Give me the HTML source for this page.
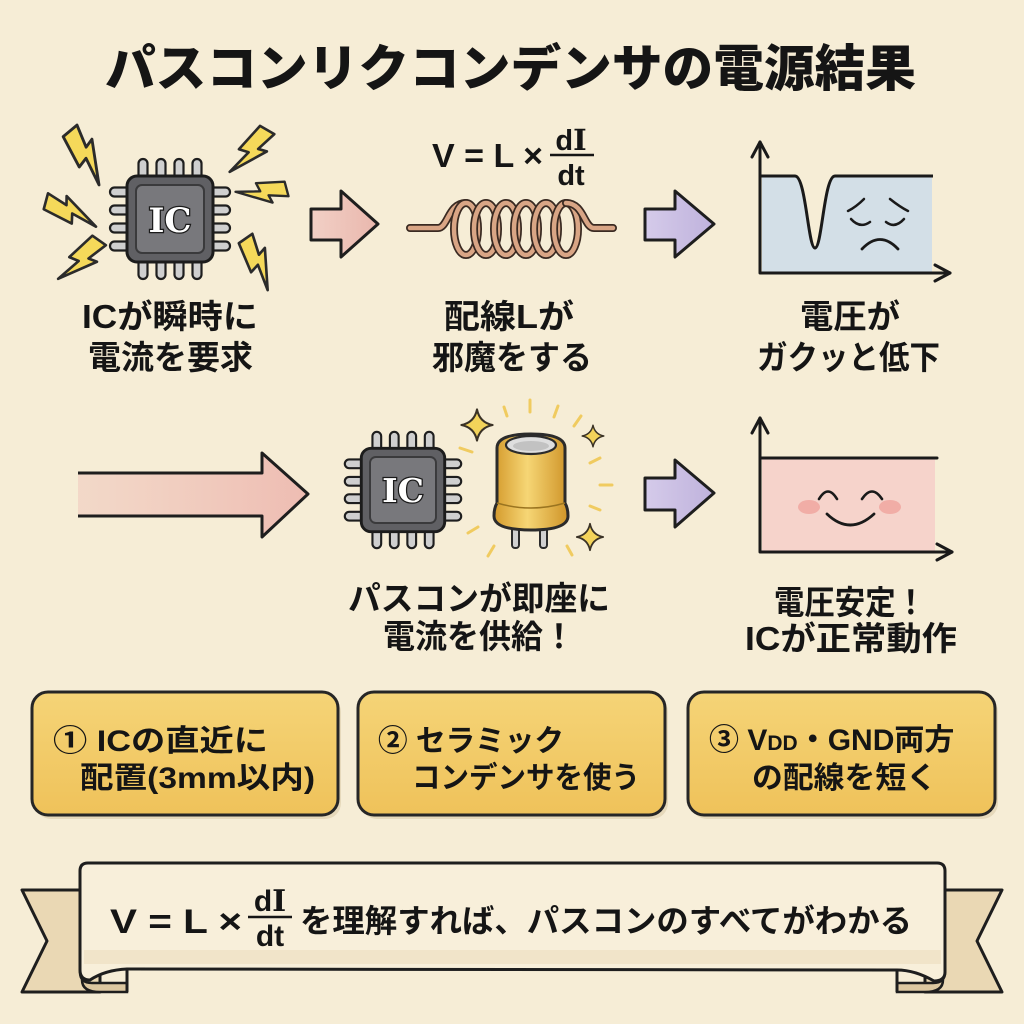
<!DOCTYPE html>
<html><head><meta charset="utf-8"><style>
html,body{margin:0;padding:0;background:#f6edd6;}
svg{display:block;}
text{font-family:"Liberation Sans","Noto Sans CJK JP",sans-serif;fill:#151515;}
</style></head><body>
<svg width="1024" height="1024" viewBox="0 0 1024 1024" xmlns="http://www.w3.org/2000/svg">
<defs>
  <linearGradient id="pinkA" x1="0" x2="1" y1="0" y2="0"><stop offset="0" stop-color="#f0c8bd" stop-opacity="0.55"/><stop offset="1" stop-color="#eebcb2"/></linearGradient>
  <linearGradient id="pinkS" x1="0" x2="1"><stop offset="0" stop-color="#f2d0c6"/><stop offset="1" stop-color="#e9b7ad"/></linearGradient>
  <linearGradient id="purp" x1="0" x2="1"><stop offset="0" stop-color="#d5cbea"/><stop offset="1" stop-color="#bfb2dc"/></linearGradient>
  <linearGradient id="gold" x1="0" x2="1"><stop offset="0" stop-color="#d49a2c"/><stop offset="0.45" stop-color="#f6d675"/><stop offset="1" stop-color="#cf9428"/></linearGradient>
  <linearGradient id="box" x1="0" x2="0" y1="0" y2="1"><stop offset="0" stop-color="#f5d477"/><stop offset="1" stop-color="#efc25a"/></linearGradient>
  <g id="chip">
    <g fill="#cfcfcf" stroke="#1e1e1e" stroke-width="2.2">
      <rect x="-31.5" y="-60" width="9" height="24" rx="4.5"/><rect x="-13.5" y="-60" width="9" height="24" rx="4.5"/><rect x="4.5" y="-60" width="9" height="24" rx="4.5"/><rect x="22.5" y="-60" width="9" height="24" rx="4.5"/>
      <rect x="-31.5" y="36" width="9" height="24" rx="4.5"/><rect x="-13.5" y="36" width="9" height="24" rx="4.5"/><rect x="4.5" y="36" width="9" height="24" rx="4.5"/><rect x="22.5" y="36" width="9" height="24" rx="4.5"/>
      <rect x="-60" y="-31.5" width="24" height="9" rx="4.5"/><rect x="-60" y="-13.5" width="24" height="9" rx="4.5"/><rect x="-60" y="4.5" width="24" height="9" rx="4.5"/><rect x="-60" y="22.5" width="24" height="9" rx="4.5"/>
      <rect x="36" y="-31.5" width="24" height="9" rx="4.5"/><rect x="36" y="-13.5" width="24" height="9" rx="4.5"/><rect x="36" y="4.5" width="24" height="9" rx="4.5"/><rect x="36" y="22.5" width="24" height="9" rx="4.5"/>
    </g>
    <rect x="-43" y="-43" width="86" height="86" rx="10" fill="#606064" stroke="#1c1c1c" stroke-width="3"/>
    <rect x="-34" y="-34" width="68" height="68" rx="6" fill="#78787c" stroke="#3a3a3c" stroke-width="2"/>
  </g>
  <polygon id="bolt" points="-6,-25 9,-25 3,-6 11,-8 -9,25 -3,1 -12,3" fill="#f5d95a" stroke="#2b2b2b" stroke-width="2.4" stroke-linejoin="round"/>
  <path id="star" d="M0,-12 Q2,-2 12,0 Q2,2 0,12 Q-2,2 -12,0 Q-2,-2 0,-12 Z" fill="#f3d35a" stroke="#3a3226" stroke-width="1.6" stroke-linejoin="round"/>
</defs>

<rect width="1024" height="1024" fill="#f6edd6"/>

<!-- Title -->
<text x="105" y="86" font-size="50" font-weight="900" textLength="811" lengthAdjust="spacingAndGlyphs">パスコンリクコンデンサの電源結果</text>

<!-- ===== Row 1 Panel 1: chip with bolts ===== -->
<use href="#bolt" transform="translate(88,155) rotate(-40) scale(1.2)"/>
<use href="#bolt" transform="translate(252,153) rotate(30) scale(1.1)"/>
<use href="#bolt" transform="translate(72,210) rotate(-75) scale(1.1)"/>
<use href="#bolt" transform="translate(262,194) rotate(75) scale(1.0)"/>
<use href="#bolt" transform="translate(82,262) rotate(35) scale(1.1)"/>
<use href="#bolt" transform="translate(260,262) rotate(-35) scale(1.1)"/>
<use href="#chip" transform="translate(170,219)"/>
<text x="170" y="232" text-anchor="middle" font-weight="700" font-size="34" style="fill:#fff;stroke:#1a1a1a;stroke-width:2.5;paint-order:stroke;font-family:'DejaVu Serif','Liberation Serif',serif">IC</text>

<text x="82" y="328" font-size="33" font-weight="700" textLength="176" lengthAdjust="spacingAndGlyphs">ICが瞬時に</text>
<text x="88" y="369" font-size="33" font-weight="700" textLength="165" lengthAdjust="spacingAndGlyphs">電流を要求</text>

<!-- Arrow 1 pink -->
<polygon points="311,209 341,209 341,191 378,224 341,257 341,240 311,240" fill="url(#pinkS)" stroke="#1e1e1e" stroke-width="3" stroke-linejoin="round"/>

<!-- ===== Panel 2: formula + coil ===== -->
<text x="432" y="167" font-size="33" font-weight="700" textLength="111" lengthAdjust="spacingAndGlyphs">V = L ×</text>
<text x="571" y="150" text-anchor="middle" font-size="29" font-weight="700">d<tspan style="font-family:'DejaVu Serif','Liberation Serif',serif">I</tspan></text>
<line x1="550" y1="155" x2="594" y2="155" stroke="#151515" stroke-width="2.5"/>
<text x="571" y="185" text-anchor="middle" font-size="29" font-weight="700">dt</text>

<g fill="none" stroke-linecap="round">
  <path d="M410,228 L438,228 C448,228 448,203 466,203" stroke="#3a2a22" stroke-width="8"/>
  <path d="M410,228 L438,228 C448,228 448,203 466,203" stroke="#d9a585" stroke-width="4.5"/>
  <ellipse cx="466" cy="229" rx="12" ry="26" stroke="#3a2a22" stroke-width="8"/><ellipse cx="466" cy="229" rx="12" ry="26" stroke="#d9a585" stroke-width="4.5"/>
  <ellipse cx="486" cy="229" rx="12" ry="26" stroke="#3a2a22" stroke-width="8"/><ellipse cx="486" cy="229" rx="12" ry="26" stroke="#d9a585" stroke-width="4.5"/>
  <ellipse cx="506" cy="229" rx="12" ry="26" stroke="#3a2a22" stroke-width="8"/><ellipse cx="506" cy="229" rx="12" ry="26" stroke="#d9a585" stroke-width="4.5"/>
  <ellipse cx="526" cy="229" rx="12" ry="26" stroke="#3a2a22" stroke-width="8"/><ellipse cx="526" cy="229" rx="12" ry="26" stroke="#d9a585" stroke-width="4.5"/>
  <ellipse cx="546" cy="229" rx="12" ry="26" stroke="#3a2a22" stroke-width="8"/><ellipse cx="546" cy="229" rx="12" ry="26" stroke="#d9a585" stroke-width="4.5"/>
  <ellipse cx="566" cy="229" rx="12" ry="26" stroke="#3a2a22" stroke-width="8"/><ellipse cx="566" cy="229" rx="12" ry="26" stroke="#d9a585" stroke-width="4.5"/>
  <path d="M566,203 C584,203 584,228 594,228 L613,228" stroke="#3a2a22" stroke-width="8"/>
  <path d="M566,203 C584,203 584,228 594,228 L613,228" stroke="#d9a585" stroke-width="4.5"/>
</g>

<text x="444" y="328" font-size="33" font-weight="700" textLength="130" lengthAdjust="spacingAndGlyphs">配線Lが</text>
<text x="432" y="369" font-size="33" font-weight="700" textLength="160" lengthAdjust="spacingAndGlyphs">邪魔をする</text>

<!-- Arrow 2 purple -->
<polygon points="645,209 675,209 675,191 714,224 675,257 675,240 645,240" fill="url(#purp)" stroke="#1e1e1e" stroke-width="3" stroke-linejoin="round"/>

<!-- ===== Panel 3: graph drop ===== -->
<path d="M762,176 L795,176 C806,176 808,248 815,248 C822,248 824,176 835,176 L932,176 L932,272 L762,272 Z" fill="#d3dfe7"/>
<path d="M760,176 L795,176 C806,176 808,248 815,248 C822,248 824,176 835,176 L933,176" fill="none" stroke="#1a1a1a" stroke-width="3" stroke-linejoin="round"/>
<g fill="none" stroke="#1a1a1a" stroke-width="3" stroke-linecap="round" stroke-linejoin="round">
  <path d="M760,142 L760,273 L950,273"/>
  <path d="M752,157 L760,142 L768,157"/>
  <path d="M935,265 L950,273 L935,281"/>
  <path d="M848,211 Q856,207 864,199" stroke-width="2.5"/>
  <path d="M908,211 Q900,207 890,199" stroke-width="2.5"/>
  <path d="M851,219 Q860,229 870,222" stroke-width="2.5"/>
  <path d="M886,222 Q895,229 904,219" stroke-width="2.5"/>
  <path d="M862,249 Q880,230 898,249" stroke-width="2.8"/>
</g>

<text x="800" y="328" font-size="33" font-weight="700" textLength="100" lengthAdjust="spacingAndGlyphs">電圧が</text>
<text x="757" y="369" font-size="33" font-weight="700" textLength="183" lengthAdjust="spacingAndGlyphs">ガクッと低下</text>

<!-- ===== Row 2 ===== -->
<path d="M78,473 L262,473 L262,453 L308,494 L262,537 L262,516 L78,516 Z" fill="url(#pinkA)"/>
<path d="M78,473 L262,473 L262,453 L308,494 L262,537 L262,516 L78,516" fill="none" stroke="#1e1e1e" stroke-width="3" stroke-linejoin="round"/>

<use href="#chip" transform="translate(403,490) scale(0.97)"/>
<text x="403" y="502" text-anchor="middle" font-weight="700" font-size="33" style="fill:#fff;stroke:#1a1a1a;stroke-width:2.5;paint-order:stroke;font-family:'DejaVu Serif','Liberation Serif',serif">IC</text>

<g stroke="#f0c64c" stroke-width="3" stroke-linecap="round" opacity="0.85">
  <line x1="504" y1="407" x2="507" y2="416"/>
  <line x1="530" y1="400" x2="530" y2="412"/>
  <line x1="558" y1="406" x2="554" y2="417"/>
  <line x1="581" y1="416" x2="574" y2="426"/>
  <line x1="600" y1="458" x2="590" y2="463"/>
  <line x1="612" y1="485" x2="600" y2="485"/>
  <line x1="600" y1="510" x2="590" y2="506"/>
  <line x1="572" y1="555" x2="567" y2="546"/>
  <line x1="488" y1="556" x2="494" y2="546"/>
  <line x1="468" y1="533" x2="478" y2="527"/>
  <line x1="460" y1="448" x2="472" y2="452"/>
</g>
<rect x="512" y="518" width="7" height="30" rx="3" fill="#d0d0d0" stroke="#2b2b2b" stroke-width="2"/>
<rect x="540" y="518" width="7" height="30" rx="3" fill="#d0d0d0" stroke="#2b2b2b" stroke-width="2"/>
<path d="M497,448 Q497,434 531,434 Q565,434 565,448 L565,503 Q568,508 568,516 Q568,530 531,530 Q494,530 494,516 Q494,508 497,503 Z" fill="url(#gold)" stroke="#2b2b2b" stroke-width="3"/>
<path d="M497,503 Q531,513 565,503" fill="none" stroke="#9a7420" stroke-width="1.5"/>
<ellipse cx="531" cy="445" rx="25" ry="9" fill="#dedede" stroke="#2b2b2b" stroke-width="2.2"/>
<ellipse cx="531" cy="446" rx="18" ry="5" fill="#c2c2c2"/>
<use href="#star" transform="translate(477,425) scale(1.3)"/>
<use href="#star" transform="translate(593,436) scale(0.9)"/>
<use href="#star" transform="translate(590,537) scale(1.1)"/>

<text x="348" y="610" font-size="33" font-weight="700" textLength="262" lengthAdjust="spacingAndGlyphs">パスコンが即座に</text>
<text x="383" y="648" font-size="33" font-weight="700" textLength="192" lengthAdjust="spacingAndGlyphs">電流を供給！</text>

<polygon points="645,478 675,478 675,460 714,493 675,527 675,510 645,510" fill="url(#purp)" stroke="#1e1e1e" stroke-width="3" stroke-linejoin="round"/>

<rect x="762" y="458" width="173" height="93" fill="#f6d3cb"/>
<g fill="none" stroke="#1a1a1a" stroke-width="3" stroke-linecap="round" stroke-linejoin="round">
  <path d="M760,418 L760,552 L952,552"/>
  <path d="M752,433 L760,418 L768,433"/>
  <path d="M937,544 L952,552 L937,560"/>
  <path d="M760,458 L937,458"/>
  <path d="M819,499 Q828,484 837,499" stroke-width="2.6"/>
  <path d="M862,499 Q872,484 882,499" stroke-width="2.6"/>
  <path d="M827,514 Q850,536 874,514" stroke-width="2.8"/>
</g>
<ellipse cx="809" cy="507" rx="11" ry="7" fill="#f0a6a0" opacity="0.85"/>
<ellipse cx="890" cy="507" rx="11" ry="7" fill="#f0a6a0" opacity="0.85"/>

<text x="774" y="614" font-size="33" font-weight="700" textLength="152" lengthAdjust="spacingAndGlyphs">電圧安定！</text>
<text x="745" y="650" font-size="33" font-weight="700" textLength="212" lengthAdjust="spacingAndGlyphs">ICが正常動作</text>

<!-- ===== Boxes ===== -->
<g>
  <rect x="35" y="696" width="306" height="123" rx="16" fill="#c9b48a" opacity="0.35"/>
  <rect x="361" y="696" width="307" height="123" rx="16" fill="#c9b48a" opacity="0.35"/>
  <rect x="691" y="696" width="307" height="123" rx="16" fill="#c9b48a" opacity="0.35"/>
  <rect x="32" y="692" width="306" height="123" rx="16" fill="url(#box)" stroke="#262626" stroke-width="3"/>
  <rect x="358" y="692" width="307" height="123" rx="16" fill="url(#box)" stroke="#262626" stroke-width="3"/>
  <rect x="688" y="692" width="307" height="123" rx="16" fill="url(#box)" stroke="#262626" stroke-width="3"/>
</g>
<text x="53" y="751" font-size="30" font-weight="700" textLength="215" lengthAdjust="spacingAndGlyphs">① ICの直近に</text>
<text x="80" y="788" font-size="30" font-weight="700" textLength="235" lengthAdjust="spacingAndGlyphs">配置(3mm以内)</text>
<text x="378" y="751" font-size="30" font-weight="700" textLength="186" lengthAdjust="spacingAndGlyphs">② セラミック</text>
<text x="412" y="788" font-size="30" font-weight="700" textLength="228" lengthAdjust="spacingAndGlyphs">コンデンサを使う</text>
<text x="709" y="750" font-size="30" font-weight="700">③ V<tspan font-size="21">DD</tspan>・GND両方</text>
<text x="752" y="788" font-size="30" font-weight="700" textLength="185" lengthAdjust="spacingAndGlyphs">の配線を短く</text>

<!-- ===== Banner ===== -->
<polygon points="22,890 100,890 100,992 22,992 47,941" fill="#ead8b4" stroke="#1e1e1e" stroke-width="3" stroke-linejoin="round"/>
<polygon points="1002,890 925,890 925,992 1002,992 977,941" fill="#ead8b4" stroke="#1e1e1e" stroke-width="3" stroke-linejoin="round"/>
<path d="M80,950 L80,972 Q80,983 92,983 L127,983 L127,992 L100,992 Q82,992 82,980" fill="#dcc7a0" stroke="#1e1e1e" stroke-width="2.5"/>
<path d="M127,966 L127,992" stroke="#1e1e1e" stroke-width="3"/>
<path d="M945,950 L945,972 Q945,983 933,983 L897,983 L897,992 L925,992 Q943,992 943,980" fill="#dcc7a0" stroke="#1e1e1e" stroke-width="2.5"/>
<path d="M897,966 L897,992" stroke="#1e1e1e" stroke-width="3"/>
<path d="M88,863 L937,863 Q945,863 945,871 L945,972 Q945,981 934,981 Q915,970 897,970 L127,969 Q105,970 90,980 Q80,980 80,970 L80,871 Q80,863 88,863 Z" fill="#f8efda" stroke="#1e1e1e" stroke-width="3" stroke-linejoin="round"/>
<rect x="84" y="950" width="857" height="14" fill="#ead9b8" opacity="0.5"/>

<text x="110" y="933" font-size="34" font-weight="700" textLength="132" lengthAdjust="spacingAndGlyphs">V = L ×</text>
<text x="270" y="911" text-anchor="middle" font-size="30" font-weight="700">d<tspan style="font-family:'DejaVu Serif','Liberation Serif',serif">I</tspan></text>
<line x1="248" y1="917" x2="292" y2="917" stroke="#151515" stroke-width="2.5"/>
<text x="270" y="946" text-anchor="middle" font-size="30" font-weight="700">dt</text>
<text x="300" y="932" font-size="32" font-weight="700" textLength="612" lengthAdjust="spacingAndGlyphs">を理解すれば、パスコンのすべてがわかる</text>
</svg>
</body></html>
